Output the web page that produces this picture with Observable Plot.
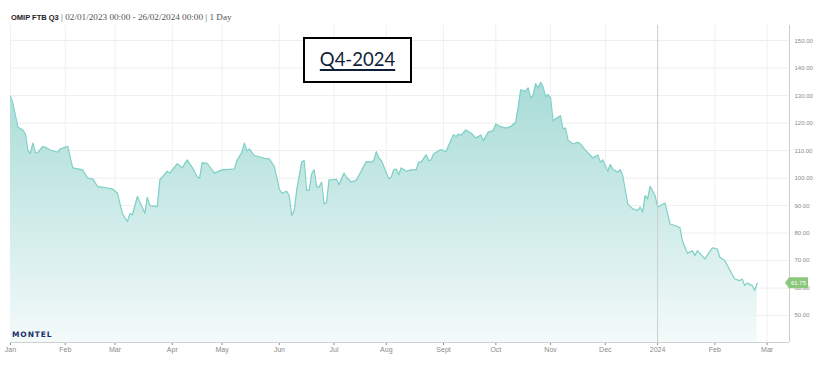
<!DOCTYPE html>
<html><head><meta charset="utf-8">
<script src="https://cdn.jsdelivr.net/npm/d3@7"></script>
<script src="https://cdn.jsdelivr.net/npm/@observablehq/plot@0.6"></script>
<style>
body{margin:0;background:#fff;width:814px;height:380px;overflow:hidden;position:relative}
#title{height:22px;padding-left:11px;line-height:30px;color:#333;white-space:nowrap}
#title b{font-family:"Liberation Sans",Arial,sans-serif;font-weight:bold;font-size:7.5px;color:#222}
#title span{font-family:"Liberation Serif",serif;font-size:9.2px;color:#555}
#q4{position:absolute;left:303px;top:37px;width:109px;height:46px;border:2px solid #000;box-sizing:border-box;background:#fff;text-align:center;font-family:Lato,"Open Sans",sans-serif;font-size:18.5px;color:#0f1e38;line-height:41px}
#q4 span{text-decoration:underline;text-decoration-thickness:1.5px;text-underline-offset:3px}
#logo{position:absolute;left:12px;top:330px;font-family:"DejaVu Sans",sans-serif;font-weight:bold;font-size:7.5px;letter-spacing:0.9px;color:#1b2f6b}
</style></head>
<body>
<div id="title"><b>OMIP FTB Q3</b><span> | 02/01/2023 00:00 - 26/02/2024 00:00 | 1 Day</span></div>
<div id="chart"></div>
<div id="q4"><span>Q4-2024</span></div>
<div id="logo">MONTEL</div>
<script>
// trading-day index (0 = 02/01/2023) and price
const day = [0,1,3,5,6,7,8,9,10,11,13,14,16,19,20,23,24,25,29,30,31,33,35,39,41,43,44,45,47,48,49,51,52,54,55,56,59,60,61,63,64,67,69,71,73,75,76,77,79,82,85,90,91,93,94,95,96,98,102,104,106,107,108,109,111,112,113,114,115,117,118,119,120,121,122,123,124,125,126,127,128,131,132,134,135,137,139,141,143,145,146,147,148,149,150,152,153,154,155,156,157,159,161,163,164,165,167,168,169,170,173,175,176,178,179,180,181,183,185,187,189,190,192,194,195,197,199,201,203,204,205,207,208,209,210,211,212,213,214,215,216,217,218,219,221,222,223,224,226,228,229,231,234,236,237,238,240,241,242,244,245,246,248,250,252,253,254,255,256,257,259,260,262,263,265,268,269,270,272,274,275,276,279,282,284,285,287,289,291,293,294,295,296,298,299,300];
const price = [129.8,127,118.5,117.5,116,110,109,112.7,109.2,109.3,111.5,111.2,110.2,109.4,110.6,111.6,107.6,103.7,103,101.5,100,99.7,96.9,96.4,96,94.5,90.6,87,84.2,87,86.7,93.3,91.2,87.2,93,90,89.6,99.3,100.3,102.5,101.8,105.2,103.7,106.6,103.9,100.5,99.9,105.5,105.4,101.8,103,103.3,106.4,109.4,112.7,109.8,110.6,108.2,107.2,107,104.2,100.3,96,94.5,95.2,93.6,86.4,88.2,95.5,105.8,106.4,95.5,95.5,101.5,103,96.9,96.7,98.5,90.6,91.2,99.3,99.5,97.6,101.8,100.3,98.5,99.3,102.7,106,105.8,106.4,109.6,107.3,106.4,104.2,99.7,100.3,103,103.3,101.2,103.7,102.5,103,103,105.8,105.8,108.5,106.4,106.6,108.8,110.4,109.6,111.8,115.8,115.1,116,115.5,117.5,116.4,114.6,115.7,113.6,116.7,117.3,119.7,118.7,118.2,118.7,120.3,125.8,132.1,131.6,132.8,129.2,130,134.4,132.8,134.8,133.3,129.6,130.4,129.2,120.9,121.5,122.7,117.9,118.2,113.9,112.4,113,112.4,110.2,107.3,108.4,105.8,106.6,102.5,104.9,103.3,102.1,103.1,100.9,90.6,88.8,88.2,89.4,87.6,93.6,92.4,97,93.6,89.4,90.4,90.9,83.3,82.4,81.9,77,72.7,73.6,71.8,73.6,70.6,74.6,74.2,71.2,70,66.6,63.3,62.7,63.3,60.9,61.8,60.9,59.1,61.75];
// first trading day of each month
const monthIdx = [0,22,42,65,85,108,130,151,174,195,217,239,260,283,304];
const monthLbl = ["Jan","Feb","Mar","Apr","May","Jun","Jul","Aug","Sept","Oct","Nov","Dec","2024","Feb","Mar"];
const yTicks = [50,60,70,80,90,100,110,120,130,140,150];
const yearStart = [260];

const data = day.map((d, i) => ({d, p: price[i]}));
const yMin = 40.2, yMax = 155.5, xMax = 313;
const last = data[data.length - 1];

const chart = Plot.plot({
  width: 814, height: 358,
  marginLeft: 10, marginRight: 25, marginTop: 3, marginBottom: 38,
  style: {fontFamily: "Liberation Sans, Arial, sans-serif", fontSize: "7px", color: "#8a8a8a", background: "#fff"},
  x: {domain: [0, xMax], ticks: monthIdx, tickFormat: d => monthLbl[monthIdx.indexOf(d)], tickSize: 3, tickPadding: 2, label: null},
  y: {domain: [yMin, yMax], axis: "right", ticks: yTicks, tickFormat: d => d.toFixed(2), tickSize: 0, tickPadding: 5, label: null},
  marks: [
    () => {
      const defs = d3.create("svg:defs");
      const g = defs.append("linearGradient").attr("id", "fillGrad").attr("x1", 0).attr("y1", 0).attr("x2", 0).attr("y2", 1);
      g.append("stop").attr("offset", 0).attr("stop-color", "#a8dcd7");
      g.append("stop").attr("offset", 1).attr("stop-color", "#f3fafa");
      return defs.node();
    },
    Plot.ruleY(yTicks, {stroke: "#eeeeee", strokeWidth: 1}),
    Plot.ruleX(monthIdx, {stroke: "#f0f0f0", strokeWidth: 1}),
    Plot.areaY(data, {x: "d", y1: yMin, y2: "p", fill: "url(#fillGrad)"}),
    Plot.lineY(data, {x: "d", y: "p", stroke: "#7fd0c7", strokeWidth: 1.2}),
    Plot.ruleX(yearStart, {stroke: "#cfcfcf", strokeWidth: 1}),
    Plot.ruleY([yMin], {stroke: "#d0d0d0", strokeWidth: 1.2}),
    Plot.ruleX([xMax], {stroke: "#cccccc", strokeWidth: 1})
  ]
});
document.getElementById("chart").appendChild(chart);
d3.select(chart).selectAll('g[aria-label^="y-axis"]').attr("font-size", 6);

// last-value tag on the right axis
const ys = chart.scale("y").apply(last.p);
const xs = chart.scale("x").apply(xMax);
const tag = d3.select(chart).append("g");
tag.append("path")
  .attr("d", `M${xs - 4},${ys} L${xs},${ys - 5.5} L${xs + 19},${ys - 5.5} L${xs + 19},${ys + 5.5} L${xs},${ys + 5.5} Z`)
  .attr("fill", "#8cc87c");
tag.append("text").attr("x", xs + 9.5).attr("y", ys).attr("dy", "0.35em")
  .attr("text-anchor", "middle").attr("fill", "#fff").attr("font-size", 6)
  .text(last.p.toFixed(2));
</script>
</body></html>
